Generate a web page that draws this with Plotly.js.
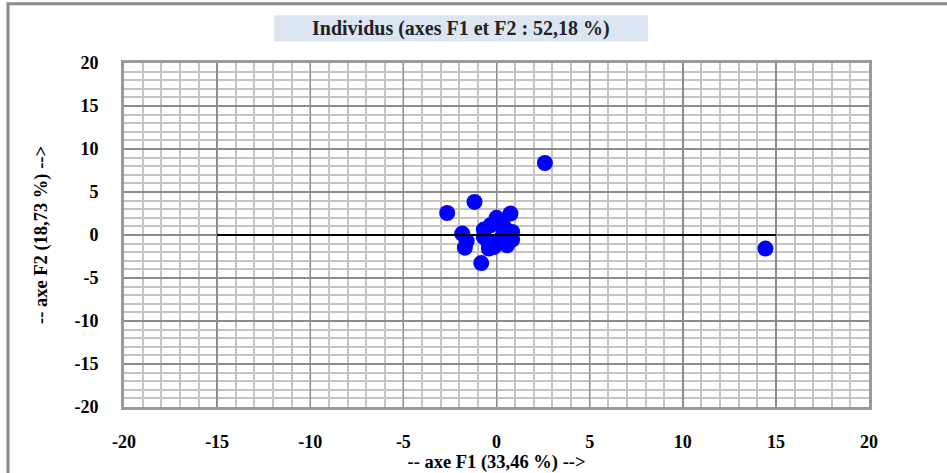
<!DOCTYPE html>
<html>
<head>
<meta charset="utf-8">
<script src="https://cdn.plot.ly/plotly-3.0.1.min.js"></script>
<style>
  html, body { margin: 0; padding: 0; background: #ffffff; }
  #chart { width: 947px; height: 473px; }
</style>
</head>
<body>
<div id="chart"></div>
<script>
// Individus: coordinates on F1 (x) and F2 (y)
const f1 = [2.6, 14.44, -1.18, -2.65, 0.75, 0.0, -1.84, -1.6, -1.7, -0.82, -0.41,
            -0.68, 0.84, 0.84, -0.32, 0.12, 0.3, -0.5, -0.14, 0.57, -0.68, 0.4];
const f2 = [8.37, -1.58, 3.85, 2.56, 2.49, 2.0, 0.16, -0.7, -1.47, -3.26, -1.58,
            0.63, -0.54, 0.35, 1.13, 1.32, -0.23, -0.62, -1.4, -1.2, -0.23, 0.93];
// horizontal reference line
const lineX = [-15, 15];
const lineY = [0, 0];
const ticks = [-20, -15, -10, -5, 0, 5, 10, 15, 20];
const titleText = "Individus (axes F1 et F2 : 52,18 %)";
const xTitle = "-- axe F1 (33,46 %) -->";
const yTitle = "-- axe F2 (18,73 %) -->";

const serif = "'Liberation Serif', 'Times New Roman', serif";

const traces = [
  {
    type: 'scatter', mode: 'markers', x: f1, y: f2,
    marker: { color: '#0000ff', size: 16, line: { width: 0 } },
    showlegend: false, hoverinfo: 'x+y'
  },
  {
    type: 'scatter', mode: 'lines', x: lineX, y: lineY,
    line: { color: '#000000', width: 2 },
    showlegend: false, hoverinfo: 'skip'
  }
];

const axisCommon = {
  range: [-20, 20],
  tickvals: ticks,
  ticktext: ticks.map(String),
  showgrid: true,
  gridcolor: '#8c8c8c',
  gridwidth: 1.5,
  minor: { dtick: 1, showgrid: true, gridcolor: '#c4c4c4', gridwidth: 2 },
  zeroline: false,
  showline: true, mirror: true, linecolor: '#9a9a9a', linewidth: 3,
  ticks: '',
  tickfont: { family: serif, size: 18, color: '#000000', weight: 'bold' },
  fixedrange: true
};

const layout = {
  width: 947, height: 473,
  margin: { l: 124, r: 78, t: 63, b: 66 },
  paper_bgcolor: '#ffffff', plot_bgcolor: '#ffffff',
  xaxis: Object.assign({}, axisCommon, {
    ticklabelstandoff: 16,
    title: { text: xTitle, font: { family: serif, size: 18.5, color: '#000', weight: 'bold' }, standoff: 2 }
  }),
  yaxis: Object.assign({}, axisCommon, {
    ticklabelstandoff: 19,
    title: { text: yTitle, font: { family: serif, size: 18.5, color: '#000', weight: 'bold' }, standoff: 22 }
  }),
  shapes: [
    { type: 'rect', xref: 'paper', yref: 'paper', x0: -0.1557, x1: 1.3, y0: -0.4, y1: 1.172,
      line: { color: '#8a8a8a', width: 3 }, fillcolor: 'rgba(0,0,0,0)', layer: 'below' },
    { type: 'rect', xref: 'paper', yref: 'paper', x0: 0.2013, x1: 0.7034, y0: 1.063, y1: 1.1385,
      line: { width: 0 }, fillcolor: '#dce6f2', layer: 'below' }
  ],
  annotations: [
    { text: titleText, xref: 'paper', yref: 'paper', x: 0.4523, y: 1.1008,
      xanchor: 'center', yanchor: 'middle', showarrow: false,
      font: { family: serif, size: 20, color: '#222222', weight: 'bold' } }
  ]
};

Plotly.newPlot('chart', traces, layout, { displayModeBar: false, staticPlot: true });
</script>
</body>
</html>
